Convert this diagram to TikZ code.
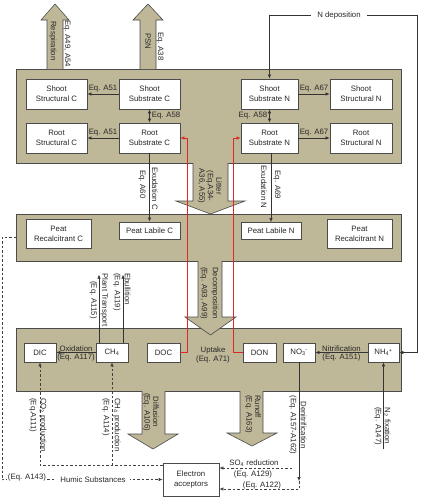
\documentclass[tikz,border=0pt]{standalone}
\usepackage{fontspec}
\setmainfont{Liberation Sans}
\usetikzlibrary{arrows.meta}
\definecolor{tanfill}{RGB}{190,183,152}
\definecolor{edgec}{RGB}{75,75,75}
\definecolor{txtc}{RGB}{40,40,40}
\definecolor{redc}{RGB}{222,40,40}
\newcommand\fsz[1]{\fontsize{7.8}{#1}\selectfont}
\begin{document}
\begin{tikzpicture}[x=1pt,y=-1pt,
  font=\fsz{10}, text=txtc,
  >={Latex[length=4pt,width=3.4pt]},
  panel/.style={draw=edgec, fill=tanfill, line width=0.8pt},
  box/.style={draw=edgec, fill=white, line width=0.8pt, align=center, inner sep=0pt},
  big/.style={draw=edgec, fill=tanfill, line width=0.6pt},
  conn/.style={->, line width=0.6pt, draw=black!80},
  dconn/.style={<->, line width=0.6pt, draw=black!80},
  dsh/.style={->, dash pattern=on 2.5pt off 2pt, line width=0.6pt, draw=black!75},
  redl/.style={->, line width=0.7pt, draw=redc},
  vl/.style={rotate=-90, inner sep=0pt},
  lbl/.style={inner sep=0pt}
]
\useasboundingbox (0,0) rectangle (427,498);
\fill[white] (0,0) rectangle (427,498);

% panels
\path[panel] (16,69) rectangle (401,163);
\path[panel] (16,214) rectangle (401,261);
\path[panel] (16,328) rectangle (401,391);

% big arrows
\path[big] (47,69) -- (47,20) -- (41,20) -- (55,4) -- (69,20) -- (63,20) -- (63,69);
\path[big] (140,69) -- (140,20) -- (133,20) -- (148,4) -- (163,20) -- (156,20) -- (156,69);
\path[big] (193,163) -- (193,201) -- (176,201) -- (210.5,214) -- (245,201) -- (228,201) -- (228,163);
\path[big] (198,261) -- (198,317) -- (185,317) -- (210.5,335) -- (236,317) -- (222,317) -- (222,261);
\path[big] (142,391) -- (142,434) -- (128,434) -- (153,449) -- (178,434) -- (165,434) -- (165,391);
\path[big] (240,391) -- (240,433) -- (227,433) -- (252,446) -- (277,433) -- (263,433) -- (263,391);

% big arrow labels
\node[vl, anchor=west] (lresp) at (53,21) {Respiration};
\node[vl, anchor=west] (lresp2) at (67,20) {Eq. A49, A54};
\node[vl, anchor=west] (lpsn) at (148,33) {PSN};
\node[vl, anchor=west] (lpsn2) at (160,32) {Eq. A38};
\node[vl, align=center, font=\fsz{8.5}] (llit) at (210,186) {Litter\\(Eq.A34-\\A36, A55)};
\node[vl, align=center, font=\fsz{11}] (ldec) at (209.5,293) {Decomposition\\(Eq. A93, A99)};
\node[vl, align=center, font=\fsz{8.5}] (ldif) at (151,412) {Diffusion\\(Eq. A106)};
\node[vl, anchor=west, align=left, font=\fsz{8.5}] (lrun) at (253,395) {Runoff\\(Eq. A163)};

% plant panel boxes
\node[box, minimum width=61pt, minimum height=30pt] (ssc) at (56.5,94) {Shoot\\Structural C};
\node[box, minimum width=61pt, minimum height=30pt] (ssub) at (149.5,94) {Shoot\\Substrate C};
\node[box, minimum width=61pt, minimum height=30pt] (rsc) at (56.5,138) {Root\\Structural C};
\node[box, minimum width=61pt, minimum height=30pt] (rsub) at (149.5,138) {Root\\Substrate C};
\node[box, minimum width=57pt, minimum height=30pt] (ssn) at (269.5,94) {Shoot\\Substrate N};
\node[box, minimum width=62pt, minimum height=30pt] (sstn) at (361,94) {Shoot\\Structural N};
\node[box, minimum width=57pt, minimum height=30pt] (rsn) at (269.5,138) {Root\\Substrate N};
\node[box, minimum width=62pt, minimum height=30pt] (rstn) at (361,138) {Root\\Structural N};

% peat panel boxes
\node[box, minimum width=65pt, minimum height=29pt] (prc) at (58.5,233.5) {Peat\\Recalcitrant C};
\node[box, minimum width=61pt, minimum height=17pt] (plc) at (149.5,230.5) {Peat Labile C};
\node[box, minimum width=60pt, minimum height=17pt] (pln) at (271,231) {Peat Labile N};
\node[box, minimum width=65pt, minimum height=29pt] (prn) at (359.5,233.5) {Peat\\Recalcitrant N};

% water panel boxes
\node[box, minimum width=32pt, minimum height=19pt] (dic) at (40,352.5) {DIC};
\node[box, minimum width=32pt, minimum height=19pt] (ch4) at (112,352.5) {CH\textsubscript{4}};
\node[box, minimum width=33pt, minimum height=19pt] (doc) at (163.5,352.5) {DOC};
\node[box, minimum width=33pt, minimum height=19pt] (don) at (259.5,352.5) {DON};
\node[box, minimum width=32pt, minimum height=19pt] (no3) at (299,352.5) {NO\textsubscript{3}\kern-0.3pt\textsuperscript{-}};
\node[box, minimum width=31pt, minimum height=19pt] (nh4) at (383.5,352.5) {NH\textsubscript{4}\kern-0.3pt\textsuperscript{+}};
\node[align=center, font=\fsz{9}] (upt) at (213,355) {Uptake\\(Eq. A71)};

% electron acceptors
\node[box, minimum width=56pt, minimum height=33pt] (ea) at (191,479.5) {Electron\\acceptors};

% plant connectors
\draw[conn] (ssub.west) -- (ssc.east) node[lbl, midway, above=1.5pt] {Eq. A51};
\draw[conn] (rsub.west) -- (rsc.east) node[lbl, midway, above=1.5pt] {Eq. A51};
\draw[dconn] (ssub.south) -- (rsub.north) node[lbl, midway, right=2pt] {Eq. A58};
\draw[conn] (ssn.east) -- (sstn.west) node[lbl, midway, above=1.5pt] {Eq. A67};
\draw[conn] (rsn.east) -- (rstn.west) node[lbl, midway, above=1.5pt] {Eq. A67};
\draw[dconn] (ssn.south) -- (rsn.north) node[lbl, midway, left=2pt] {Eq. A58};

% exudation
\draw[conn] (rsub.south) -- (plc.north);
\node[vl, anchor=west] (lexc) at (155,167) {Exudation C};
\node[vl, anchor=west] (lexc2) at (142,170) {Eq. A60};
\draw[conn] (rsn.south -| pln.north) -- (pln.north);
\node[vl] (lexn) at (264,187) {Exudation N};
\node[vl] (lexn2) at (277,185) {Eq. A69};

% N deposition
\coordinate (nd) at (417,15);
\draw[conn] (nd) -| (ssn.north);
\draw[conn] (nd) |- (nh4.east);
\node[fill=white, inner xsep=6pt, inner ysep=1pt] (ndl) at (339,15) {N deposition};

% water panel connectors
\draw[conn] (ch4.west) -- (dic.east)
  node[lbl, midway, above=1pt] {Oxidation}
  node[lbl, midway, below=1pt] {(Eq. A117)};
\draw[conn] (nh4.west) -- (no3.east)
  node[lbl, midway, above=1pt] {Nitrification}
  node[lbl, midway, below=1pt] {(Eq. A151)};
\draw[conn] ([xshift=-13pt]ch4.north) -- ++(0,-68);
\draw[conn] ([xshift=11pt]ch4.north) -- ++(0,-68);
\node[vl, align=center, font=\fsz{11}] (lpt) at (99,300) {Plant Transport\\(Eq. A115)};
\node[vl, anchor=west, align=left, font=\fsz{10}] (leb) at (122,273) {Ebullition\\(Eq. A119)};

% red uptake lines
\draw[redl] (doc.east) -- ++(7,0) |- (rsub.east);
\draw[redl] (don.west) -- ++(-9,0) |- (rsn.west);

% bottom dashed connectors
\coordinate (eaj) at ([yshift=-3pt]ea.north west);
\draw[dsh] (eaj) -| (dic.south);
\draw[dsh] (ch4.south |- eaj) -- (ch4.south);
\node[vl, anchor=west, align=left, font=\fsz{10}] (lco2) at (38,398) {CO\textsubscript{2} production\\(Eq.A111)};
\node[vl, anchor=west, align=left, font=\fsz{11}] (lch4p) at (111.5,398) {CH\textsubscript{4} production\\(Eq. A114)};

% denitrification
\coordinate (dn) at (299,481);
\draw[conn] (no3.south) -- (dn);
\draw[dsh] (dn) |- ([yshift=-9.5pt]ea.east);
\node[vl, align=center, font=\fsz{10}] (lden) at (298,425) {Denitrification\\(Eq. A157-A162)};
\node[lbl] (l122) at (262,485.5) {(Eq. A122)};

% SO4 reduction
\coordinate (so4) at (292,468);
\draw[dsh] (so4) -- ([yshift=11.5pt]ea.east);
\node[lbl, anchor=south] (lso4) at (254,467) {SO\textsubscript{4} reduction};
\node[lbl, anchor=north] (l129) at (253,470.5) {(Eq. A129)};

% N2 fixation
\coordinate (nf) at (383.5,449);
\draw[conn] (nf) -- (nh4.south);
\node[vl, align=center, font=\fsz{9}] (lnf) at (382.5,426) {N\textsubscript{2} fixation\\(Eq. A147)};

% humic substances
\coordinate (hs) at (16,237);
\draw[dsh] (hs) -- (2,237) |- (ea.west);
\node[lbl, fill=white, inner xsep=1pt] (l143) at (27,477) {(Eq. A143)};
\node[lbl, fill=white, inner xsep=4pt, inner ysep=1pt] (lhum) at (93,480) {Humic Substances};

\end{tikzpicture}
\end{document}
